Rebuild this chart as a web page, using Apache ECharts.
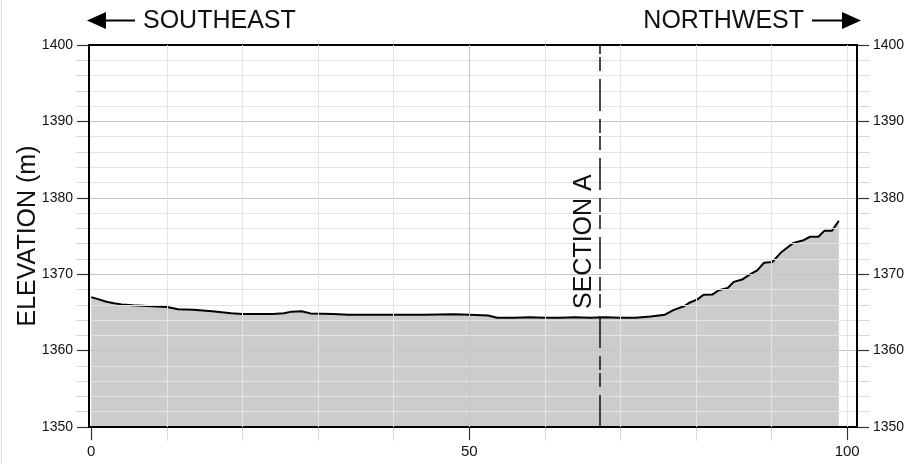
<!DOCTYPE html>
<html>
<head>
<meta charset="utf-8">
<script src="https://cdn.jsdelivr.net/npm/echarts@6/dist/echarts.min.js"></script>
<style>
html,body{margin:0;padding:0;background:#fff;}
#c{width:911px;height:464px;}
</style>
</head>
<body>
<div id="c"></div>
<script>
// ---- data ----
var distance = [0,1,2,3,4,5.5,7.4,10,11.5,13.5,16,18.5,20,24,25.5,26.5,27.8,28.5,29,32,34,40,44,48,50,52.5,53.7,56,58,60,62,64,66,68,70,72,74,75.9,77,78.4,79.2,80.2,81,82.2,83,84.2,85,86.1,87.2,88.1,89,90.1,91.2,92.1,92.9,94.1,95.1,96.2,97,98,98.9];
var elevation = [1367.0,1366.7,1366.4,1366.2,1366.05,1365.95,1365.85,1365.7,1365.4,1365.35,1365.15,1364.9,1364.8,1364.8,1364.9,1365.1,1365.15,1365.0,1364.85,1364.8,1364.7,1364.7,1364.7,1364.75,1364.7,1364.6,1364.3,1364.3,1364.35,1364.3,1364.3,1364.35,1364.3,1364.35,1364.3,1364.3,1364.45,1364.7,1365.3,1365.8,1366.3,1366.7,1367.3,1367.35,1367.9,1368.2,1369.0,1369.3,1370.0,1370.5,1371.5,1371.6,1372.8,1373.5,1374.1,1374.4,1374.9,1374.9,1375.7,1375.7,1377.0];
var xTickLabels = [0, 50, 100];
var xMinorGrid = [10, 20, 30, 40, 60, 70, 80, 90, 100];
var xMajorGrid = [50];
var sectionA = 67.3;
var sectionLabel = "SECTION A";
var yAxisName = "ELEVATION (m)";
var leftDir = "SOUTHEAST";
var rightDir = "NORTHWEST";

var profile = distance.map(function(d, i){ return [d, elevation[i]]; });
var allXTicks = [0,10,20,30,40,50,60,70,80,90,100];

var chart = echarts.init(document.getElementById('c'), null, {renderer:'canvas'});
var FONT = 'Liberation Sans, Arial, sans-serif';

function yAxisCfg(pos){
  return {
    type:'value', position:pos, min:1350, max:1400, interval:10,
    axisLine:{show:true, onZero:false, lineStyle:{color:'#000', width:2}},
    axisTick:{show:true, length:12, lineStyle:{color:'#333', width:1.2}},
    minorTick:{show:true, splitNumber:5, length:13, lineStyle:{color:'#d9d9d9', width:1}},
    axisLabel:{show:true, margin:16, color:'#111', fontSize:14, fontFamily:FONT, formatter:function(v){ return String(v); }},
    splitLine:{show: pos==='left', lineStyle:{color:'#c4c4c4', width:1}},
    minorSplitLine:{show: pos==='left', lineStyle:{color:'#e4e4e4', width:1}},
    z: 3
  };
}

var option = {
  backgroundColor:'#fff',
  animation:false,
  grid:{left:89, width:768, top:45, height:382, show:true, borderColor:'#000', borderWidth:2, backgroundColor:'transparent', z:4},
  xAxis:[
    {
      type:'value', min:-0.3, max:101.3, position:'bottom',
      axisLine:{show:true, onZero:false, lineStyle:{color:'#000', width:2}},
      axisTick:{show:true, customValues:allXTicks, length:14, lineStyle:{color:'#dcdcdc', width:1}},
      axisLabel:{show:false},
      splitLine:{show:false}
    },
    {
      type:'value', min:-0.3, max:101.3, position:'bottom',
      axisLine:{show:false, onZero:false},
      axisTick:{show:true, customValues:xTickLabels, length:13, lineStyle:{color:'#333', width:1.2}},
      axisLabel:{show:true, customValues:xTickLabels, margin:17, color:'#111', fontSize:15, fontFamily:FONT},
      splitLine:{show:false}
    }
  ],
  yAxis:[ yAxisCfg('left'), yAxisCfg('right') ],
  series:[
    {
      type:'line', data:profile, xAxisIndex:0, yAxisIndex:0,
      symbol:'none', smooth:false, z:-1,
      lineStyle:{color:'#000', width:2},
      areaStyle:{color:'#cccccc', opacity:1, origin:'start'}
    },
    {
      type:'line', data:[], xAxisIndex:0, yAxisIndex:0, z:1, silent:true,
      markLine:{
        silent:true, symbol:['none','none'], label:{show:false},
        data: xMinorGrid.map(function(v){ return {xAxis:v, lineStyle:{color:'#e4e4e4', width:1, type:'solid'}}; })
          .concat(xMajorGrid.map(function(v){ return {xAxis:v, lineStyle:{color:'#c4c4c4', width:1, type:'solid'}}; }))
      }
    },
    {
      type:'line', data:[], xAxisIndex:0, yAxisIndex:0, z:5, silent:true,
      markLine:{
        silent:true, symbol:['none','none'],
        data:[{xAxis:sectionA, lineStyle:{color:'#111', width:1.5, type:[32,8,14,3,14,8]},
          label:{show:true, position:'insideStartTop', formatter:sectionLabel, color:'#111', fontSize:25, fontFamily:FONT, distance:[118, 3]}}]
      }
    }
  ],
  graphic:[
    {type:'line', shape:{x1:1.5,y1:0,x2:1.5,y2:464}, style:{stroke:'#dddddd', lineWidth:1}},
    {type:'text', x:28, y:236, rotation:Math.PI/2, style:{text:yAxisName, fill:'#111', font:'25px '+FONT, textAlign:'center', textVerticalAlign:'middle'}},
    // left arrow
    {type:'line', shape:{x1:100, y1:20.5, x2:135, y2:20.5}, style:{stroke:'#000', lineWidth:2}},
    {type:'polygon', shape:{points:[[87,20.5],[106,12],[106,29]]}, style:{fill:'#000'}},
    {type:'text', x:143, y:21, style:{text:leftDir, fill:'#111', font:'25px '+FONT, textAlign:'left', textVerticalAlign:'middle'}},
    // right arrow
    {type:'text', x:804, y:21, style:{text:rightDir, fill:'#111', font:'25px '+FONT, textAlign:'right', textVerticalAlign:'middle'}},
    {type:'line', shape:{x1:812, y1:20.5, x2:848, y2:20.5}, style:{stroke:'#000', lineWidth:2}},
    {type:'polygon', shape:{points:[[861,20.5],[842,12],[842,29]]}, style:{fill:'#000'}}
  ]
};
chart.setOption(option);
</script>
</body>
</html>
